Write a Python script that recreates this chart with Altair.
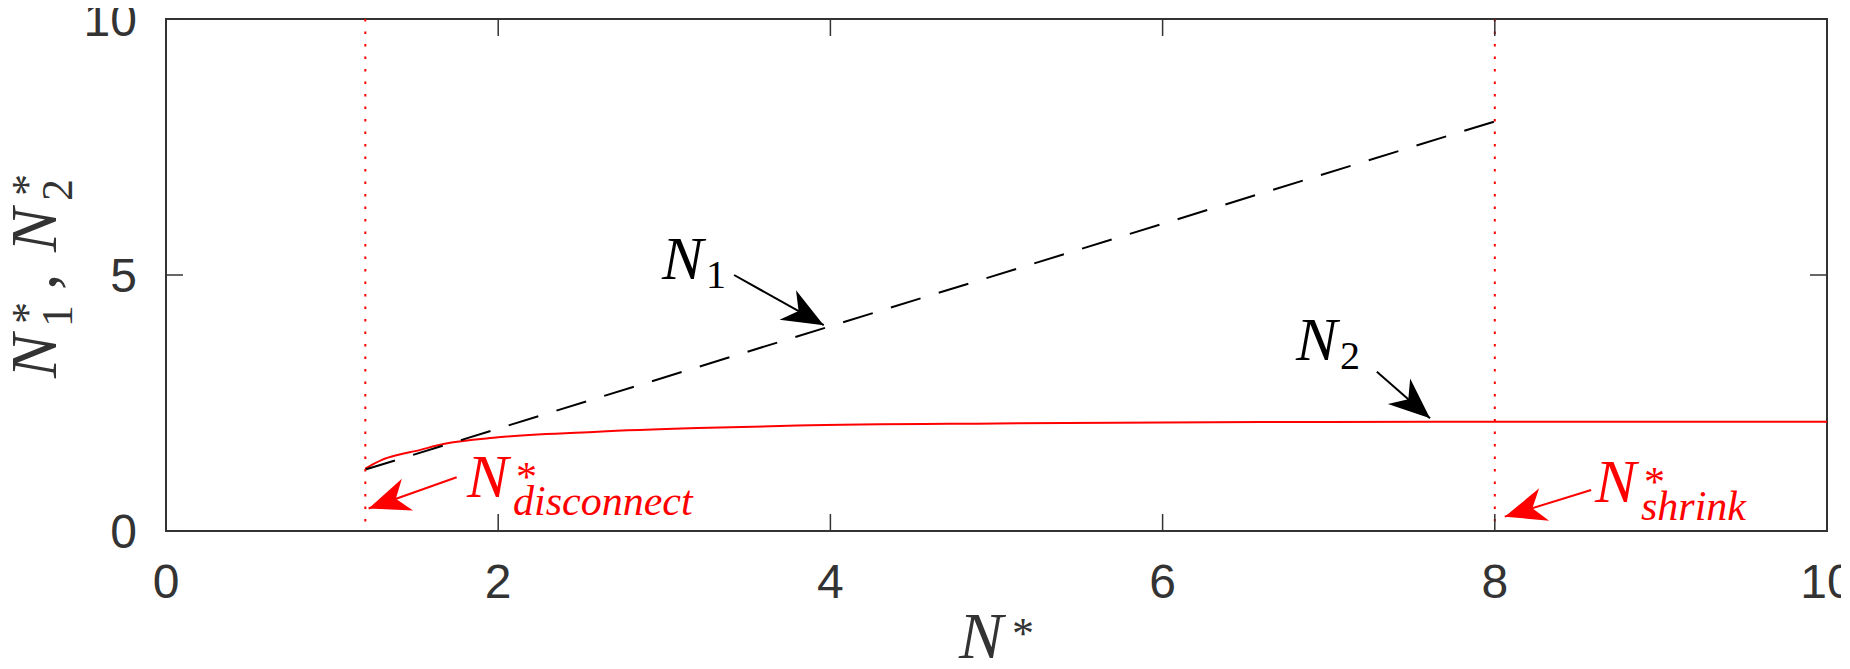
import math
import altair as alt
import pandas as pd

# ---------------- data ----------------
n_star = [1.2, 1.25, 1.3, 1.4, 1.5, 1.67, 2.0, 2.6, 3.2, 3.8, 5.0, 6.0, 7.0, 8.0, 9.0, 10.0]
n2_vals = [1.22, 1.31, 1.39, 1.49, 1.56, 1.70, 1.83, 1.94, 2.01, 2.06, 2.10, 2.12, 2.13, 2.135, 2.135, 2.135]
n1_x = [1.2, 8.0]
n1_vals = [1.2, 8.0]
marker_x = [1.2, 8.0]          # N*_disconnect, N*_shrink
x_ticks = [0, 2, 4, 6, 8, 10]
y_ticks = [0, 5, 10]
x_tick_labels = ["0", "2", "4", "6", "8", "10"]
y_tick_labels = ["0", "5", "10"]

# annotation arrows (tail -> tip), data units
arrow_tail_x = [3.42, 7.29, 1.75, 8.58]
arrow_tail_y = [5.00, 3.11, 1.05, 0.80]
arrow_tip_x = [3.96, 7.61, 1.22, 8.06]
arrow_tip_y = [4.02, 2.20, 0.44, 0.28]
arrow_color = ["black", "black", "red", "red"]

# annotation labels
label_sub = ["1", "2", "disconnect", "shrink"]
label_star = [False, False, True, True]
label_color = ["black", "black", "red", "red"]
label_x = [2.986, 6.803, 1.812, 8.603]
label_y = [4.92, 3.34, 0.664, 0.566]

# ---------------- layout / style ----------------
W, H = 1661, 512
PX_X, PX_Y = W / 10, H / 10
AXIS = "#333333"
RED = "#ff0000"
SERIF = "Liberation Serif"
SANS = "Liberation Sans"
COLORS = {"black": "#000000", "red": RED}
TICK_FONT = 48

xs = alt.Scale(domain=[0, 10], nice=False, zero=False)
ys = alt.Scale(domain=[0, 10], nice=False, zero=False)


def X(field):
    return alt.X(field, type="quantitative", scale=xs, axis=None)


def Y(field):
    return alt.Y(field, type="quantitative", scale=ys, axis=None)


layers = []

# N2 curve
curve_df = pd.DataFrame({"n": n_star, "v": n2_vals})
layers.append(alt.Chart(curve_df).mark_line(color=RED, strokeWidth=2, interpolate="monotone")
              .encode(x=X("n"), y=Y("v")))

# N1 dashed line
n1_df = pd.DataFrame({"n": n1_x, "v": n1_vals})
layers.append(alt.Chart(n1_df).mark_line(color="black", strokeWidth=2, strokeDash=[31, 19])
              .encode(x=X("n"), y=Y("v")))

# dotted vertical markers
mk_df = pd.DataFrame({"x": marker_x})
layers.append(alt.Chart(mk_df).mark_rule(color=RED, strokeWidth=2, strokeDash=[2.5, 10])
              .encode(x=X("x"), y=alt.value(0), y2=alt.value(H)))

# inward ticks on all four sides
xt = pd.DataFrame({"t": x_ticks, "lab": x_tick_labels})
yt = pd.DataFrame({"t": y_ticks, "lab": y_tick_labels})
TL = 17
layers.append(alt.Chart(xt).mark_rule(color=AXIS, strokeWidth=1.5)
              .encode(x=X("t"), y=alt.value(H), y2=alt.value(H - TL)))
layers.append(alt.Chart(xt).mark_rule(color=AXIS, strokeWidth=1.5)
              .encode(x=X("t"), y=alt.value(0), y2=alt.value(TL)))
layers.append(alt.Chart(yt).mark_rule(color=AXIS, strokeWidth=1.5)
              .encode(y=Y("t"), x=alt.value(0), x2=alt.value(TL)))
layers.append(alt.Chart(yt).mark_rule(color=AXIS, strokeWidth=1.5)
              .encode(y=Y("t"), x=alt.value(W), x2=alt.value(W - TL)))

# tick labels
layers.append(alt.Chart(xt).mark_text(font=SANS, fontSize=TICK_FONT, color=AXIS, align="center",
                                      baseline="alphabetic")
              .encode(x=X("t"), y=alt.value(H + 67), text="lab:N"))
layers.append(alt.Chart(yt).mark_text(font=SANS, fontSize=TICK_FONT, color=AXIS, align="right",
                                      baseline="alphabetic", dy=17)
              .encode(y=Y("t"), x=alt.value(-29), text="lab:N"))

# arrows
ang = [(math.degrees(math.atan2(-(y2 - y1) * PX_Y, (x2 - x1) * PX_X))) % 360
       for x1, y1, x2, y2 in zip(arrow_tail_x, arrow_tail_y, arrow_tip_x, arrow_tip_y)]
arr_df = pd.DataFrame({"x": arrow_tail_x, "y": arrow_tail_y, "x2": arrow_tip_x,
                       "y2": arrow_tip_y, "c": [COLORS[c] for c in arrow_color], "ang": ang})
layers.append(alt.Chart(arr_df).mark_rule(strokeWidth=2)
              .encode(x=X("x"), y=Y("y"), x2="x2:Q", y2="y2:Q",
                      color=alt.Color("c:N", scale=None)))
ARROW = "M0,0 L-2,-0.82 L-1.4,0 L-2,0.82 Z"
layers.append(alt.Chart(arr_df).mark_point(shape=ARROW, filled=True, size=1700, opacity=1)
              .encode(x=X("x2"), y=Y("y2"), angle=alt.Angle("ang:Q", scale=None),
                      color=alt.Color("c:N", scale=None)))


def piece(x, y, text, dx, dy, size, color, italic):
    df = pd.DataFrame({"x": [x], "y": [y], "t": [text]})
    return (alt.Chart(df)
            .mark_text(align="left", baseline="alphabetic", dx=dx, dy=dy, font=SERIF,
                       fontSize=size, fontStyle="italic" if italic else "normal",
                       color=color)
            .encode(x=X("x"), y=Y("y"), text="t:N"))


for sub, star, col, lx, ly in zip(label_sub, label_star, label_color, label_x, label_y):
    c = COLORS[col]
    layers.append(piece(lx, ly, "N", 0, 0, 62, c, True))
    if star:
        layers.append(piece(lx, ly, "*", 49, -6, 42, c, False))
        layers.append(piece(lx, ly, sub, 46, 18, 42, c, True))
    else:
        layers.append(piece(lx, ly, sub, 44, 9, 40, c, False))


def tpiece(px, py, text, size, italic, angle=0):
    df = pd.DataFrame({"t": [text]})
    kw = dict(align="left", baseline="alphabetic", font=SERIF, fontSize=size,
              fontStyle="italic" if italic else "normal", color=AXIS)
    if angle:
        kw["angle"] = angle
    return alt.Chart(df).mark_text(**kw).encode(x=alt.value(px), y=alt.value(py), text="t:N")


# x title  N*
layers.append(tpiece(793, 639, "N", 66, True))
layers.append(tpiece(846, 629, "*", 44, False))

# y title  N*_1 , N*_2  (rotated)
layers.append(tpiece(-110, 359, "N", 66, True, 270))
layers.append(tpiece(-124, 305, "*", 44, False, 270))
layers.append(tpiece(-94, 308, "1", 44, False, 270))
layers.append(tpiece(-110, 271, ",", 66, False, 270))
layers.append(tpiece(-110, 233, "N", 66, True, 270))
layers.append(tpiece(-124, 177, "*", 44, False, 270))
layers.append(tpiece(-94, 182, "2", 44, False, 270))

chart = (alt.layer(*layers)
         .properties(width=W, height=H,
                     autosize=alt.AutoSizeParams(type="none"),
                     padding={"left": 158, "top": 11, "right": 14, "bottom": 130})
         .configure(background="white")
         .configure_view(stroke=AXIS, strokeWidth=2))

chart.save("out.html", embed_options={"renderer": "svg", "actions": False})
